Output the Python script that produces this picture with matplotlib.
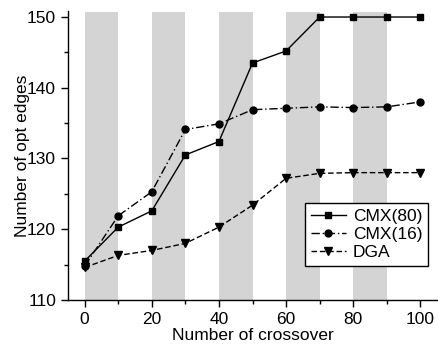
import matplotlib
matplotlib.use("Agg")
import matplotlib.pyplot as plt
from matplotlib.ticker import MultipleLocator

plt.rcParams['font.family'] = ['Liberation Sans', 'DejaVu Sans']

x = [0, 10, 20, 30, 40, 50, 60, 70, 80, 90, 100]
cmx80 = [115.5, 120.3, 122.6, 130.5, 132.4, 143.5, 145.2, 150.0, 150.0, 150.0, 150.0]
cmx16 = [114.8, 121.9, 125.3, 134.1, 134.9, 136.9, 137.1, 137.3, 137.2, 137.3, 138.0]
dga = [114.6, 116.3, 117.0, 118.0, 120.3, 123.4, 127.2, 127.9, 128.0, 128.0, 128.0]
band_starts = [0, 20, 40, 60, 80]
band_width = 10

fig = plt.figure(figsize=(4.38, 3.44), dpi=100)
ax = fig.add_axes([0.155, 0.128, 0.843, 0.84])

for s in band_starts:
    ax.axvspan(s, s + band_width, ymin=0, ymax=0.995, color='#d4d4d4', lw=0, zorder=0)

ax.plot(x, cmx80, '-', color='black', marker='s', ms=5, lw=1.0, label='CMX(80)', zorder=3)
ax.plot(x, cmx16, linestyle=(0, (6, 2, 1, 2)), color='black', marker='o', ms=5, lw=1.0, label='CMX(16)', zorder=3)
ax.plot(x, dga, linestyle=(0, (4, 2)), color='black', marker='v', ms=5.5, lw=1.0, label='DGA', zorder=3)

ax.set_xlim(-5, 105)
ax.set_ylim(110, 150.85)
ax.xaxis.set_major_locator(MultipleLocator(20))
ax.xaxis.set_minor_locator(MultipleLocator(10))
ax.yaxis.set_major_locator(MultipleLocator(10))
ax.yaxis.set_minor_locator(MultipleLocator(5))
ax.tick_params(which='both', direction='out', width=1, labelsize=12.5, colors='black')
ax.tick_params(which='major', length=5)
ax.tick_params(which='minor', length=3)
for sp in ['top', 'right']:
    ax.spines[sp].set_visible(False)
for sp in ['left', 'bottom']:
    ax.spines[sp].set_linewidth(1.0)

ax.set_xlabel('Number of crossover', fontsize=12.5, labelpad=1)
ax.set_ylabel('Number of opt edges', fontsize=12.5, labelpad=-2)

leg = ax.legend(loc='upper left', bbox_to_anchor=(0.642, 0.336), fontsize=12.5,
                frameon=True, fancybox=False, edgecolor='black', framealpha=1,
                handlelength=2.0, handletextpad=0.4, borderpad=0.35, labelspacing=0.15,
                borderaxespad=0)
leg.get_frame().set_linewidth(1.0)

fig.savefig('out.png', dpi=100)
